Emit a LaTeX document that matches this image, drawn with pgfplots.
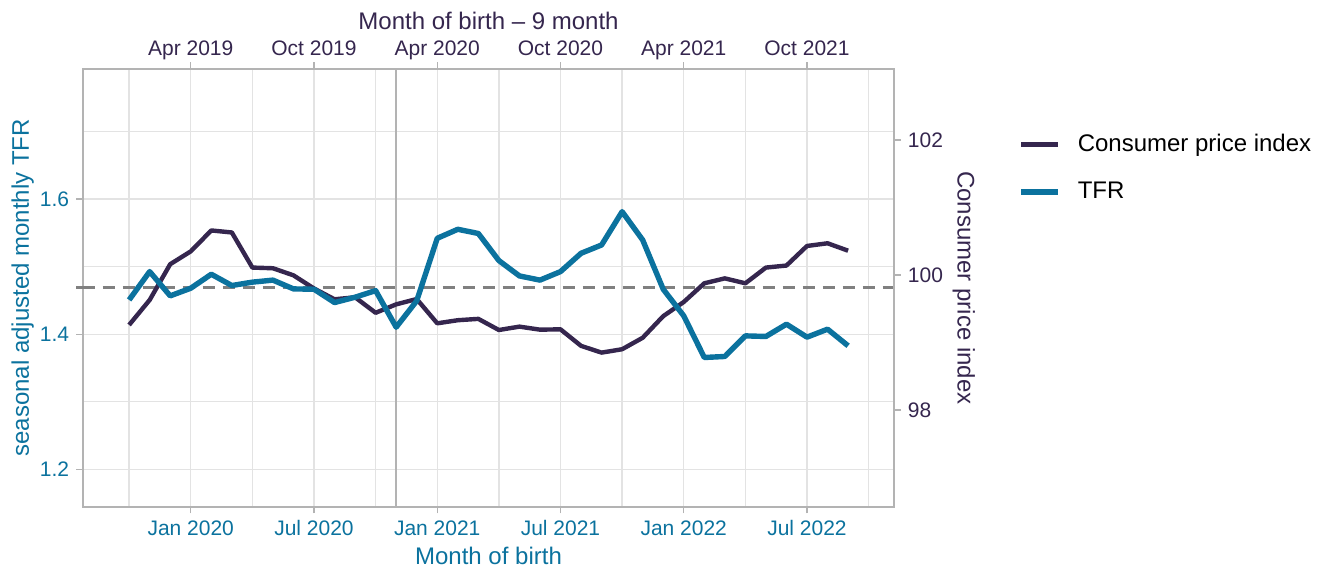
\documentclass[border=0pt]{standalone}
\usepackage{fontspec}
\setmainfont{Liberation Sans}
\usepackage{pgfplots}
\pgfplotsset{compat=1.18}
\definecolor{tfr}{HTML}{0B729E}
\definecolor{cpi}{HTML}{35264E}
\definecolor{gridgray}{HTML}{E3E3E3}
\definecolor{axisgray}{HTML}{B3B3B3}
\definecolor{dashgray}{HTML}{808080}
\newcommand{\ticksize}{\fontsize{10.5}{12}\selectfont}
\newcommand{\titlesize}{\fontsize{12}{14}\selectfont}
\pgfplotsset{
  common/.style={
    scale only axis, width=405.8pt, height=218.85pt,
    at={(0pt,0pt)}, anchor=south west,
    xmin=-5.26, xmax=34.25,
    /pgf/number format/assume math mode=true,
    tick align=outside, major tick length=3.3pt, minor tick length=0pt,
    axis line style={-, draw=axisgray, line width=1.15pt},
    every tick/.style={draw=axisgray, line width=0.6pt},
  }
}
\begin{document}
\begin{tikzpicture}
\path[use as bounding box] (-41.35pt,-31.65pt) rectangle (622.15pt,253.35pt);
% base axis: grid, left/bottom
\begin{axis}[common,
  ymin=1.1447, ymax=1.7924, tick pos=left,
  xtick={0,6,...,30},
  xticklabels={Jan 2020, Jul 2020, Jan 2021, Jul 2021, Jan 2022, Jul 2022},
  minor xtick={-3,3,...,33},
  ytick={1.2,1.4,1.6}, minor ytick={1.3,1.5,1.7},
  grid=both,
  major grid style={draw=gridgray, line width=0.65pt},
  minor grid style={draw=gridgray, line width=0.65pt},
  xticklabel style={text=tfr, font=\ticksize, text height=7.6pt},
  yticklabel style={text=tfr, font=\ticksize, /pgf/number format/fixed, /pgf/number format/fixed zerofill, /pgf/number format/precision=1},
  xlabel={Month of birth}, ylabel={seasonal adjusted monthly TFR},
  every axis x label/.style={at={(axis description cs:0.5,-0.1309)}, anchor=base, font=\titlesize, text=tfr},
  every axis y label/.style={at={(axis description cs:-0.0662,0.5)}, rotate=90, anchor=base, font=\titlesize, text=tfr},
  extra y ticks={1.469}, extra y tick labels={},
  extra y tick style={grid=none, tick style={draw=dashgray, line width=1.15pt}},
]
\addplot[dashgray, line width=1.15pt, dash pattern=on 6pt off 4pt] coordinates {(-5.26,1.469) (34.25,1.469)};
\addplot[axisgray, line width=1.3pt] coordinates {(10,1.1447) (10,1.7924)};
\end{axis}
% CPI axis: top/right
\begin{axis}[common,
  ymin=96.567, ymax=103.052,
  axis x line*=top, axis y line*=right,
  xtick={0,6,...,30},
  xticklabels={Apr 2019, Oct 2019, Apr 2020, Oct 2020, Apr 2021, Oct 2021},
  ytick={98,100,102},
  xticklabel style={text=cpi, font=\ticksize, text depth=0pt},
  yticklabel style={text=cpi, font=\ticksize},
  xlabel={Month of birth \textendash{} 9 month}, ylabel={Consumer price index},
  every axis x label/.style={at={(axis description cs:0.5,1.0891)}, anchor=base, font=\titlesize, text=cpi},
  every axis y label/.style={at={(axis description cs:1.078,0.5)}, rotate=-90, anchor=base, font=\titlesize, text=cpi},
  legend style={at={(axis description cs:1.153,0.7736)}, anchor=west, draw=none, fill=none,
    inner sep=0pt, outer sep=0pt, font=\titlesize, row sep=13.7pt,
    nodes={inner sep=0pt},
    /tikz/every odd column/.append style={column sep=8.65pt}},
  legend cell align=left,
  legend image code/.code={\draw[#1] (0pt,0pt) -- (18.3pt,0pt);},
]
\addplot[cpi, line width=2.2pt, line join=round] table {
x y
-3 99.26
-2 99.63
-1 100.16
0 100.35
1 100.66
2 100.63
3 100.11
4 100.10
5 99.995
6 99.80
7 99.64
8 99.67
9 99.44
10 99.565
11 99.644
12 99.284
13 99.33
14 99.35
15 99.185
16 99.235
17 99.19
18 99.195
19 98.95
20 98.85
21 98.90
22 99.07
23 99.39
24 99.60
25 99.877
26 99.95
27 99.877
28 100.11
29 100.14
30 100.43
31 100.47
32 100.36
};
\addlegendentry{Consumer price index}
\addlegendimage{tfr, line width=2.7pt}
\addlegendentry{TFR}
\end{axis}
% TFR line on top
\begin{axis}[common, ymin=1.1447, ymax=1.7924, hide axis]
\addplot[tfr, line width=2.7pt, line join=round] table {
x y
-3 1.4507
-2 1.4926
-1 1.4567
0 1.468
1 1.4887
2 1.472
3 1.477
4 1.480
5 1.467
6 1.4665
7 1.4468
8 1.4547
9 1.4645
10 1.4103
11 1.4493
12 1.5419
13 1.5552
14 1.549
15 1.5089
16 1.4862
17 1.480
18 1.4926
19 1.5197
20 1.532
21 1.5813
22 1.5394
23 1.4665
24 1.4271
25 1.3655
26 1.367
27 1.3975
28 1.3966
29 1.4148
30 1.3956
31 1.4074
32 1.3828
};
\end{axis}
\end{tikzpicture}
\end{document}
